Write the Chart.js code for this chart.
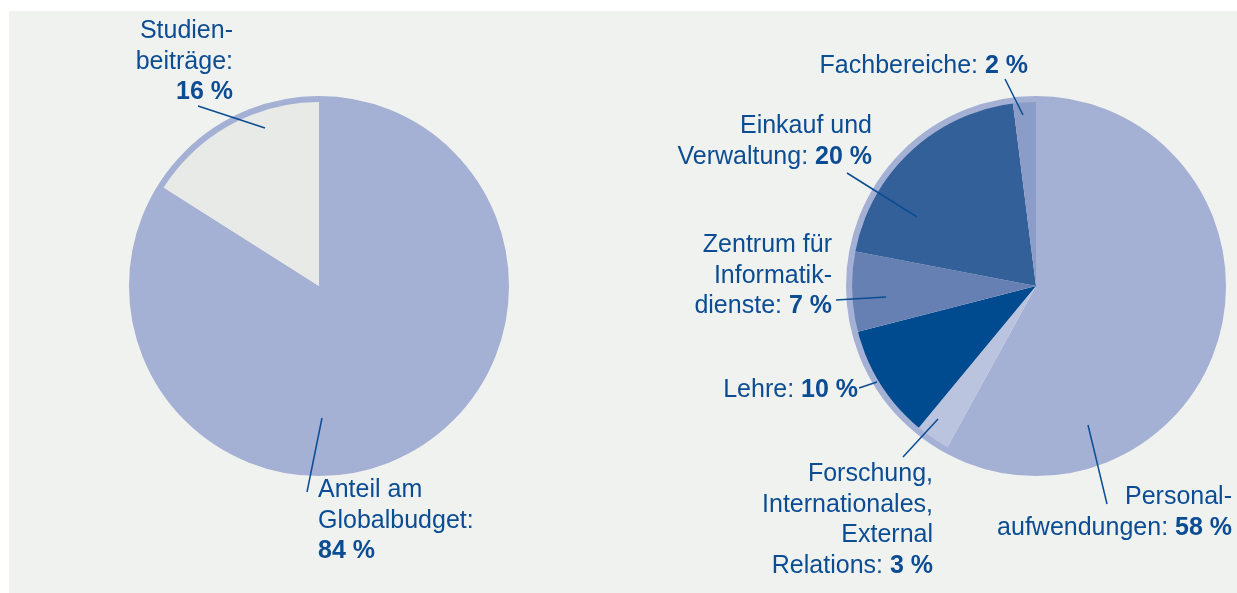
<!DOCTYPE html>
<html>
<head>
<meta charset="utf-8">
<script src="https://cdn.jsdelivr.net/npm/chart.js@4.4.1/dist/chart.umd.min.js"></script>
<style>
  html, body { margin: 0; padding: 0; background: #ffffff; }
  .wrap { position: relative; width: 1237px; height: 593px; overflow: hidden; }
  .panel { position: absolute; left: 9px; top: 11px; right: 0; bottom: 0; background: #f0f2ef; }
  canvas { position: absolute; left: 0; top: 0; }
</style>
</head>
<body>
<div class="wrap">
  <div class="panel"></div>
  <canvas id="leftPie" width="1237" height="593"></canvas>
  <canvas id="rightPie" width="1237" height="593"></canvas>
</div>
<script>
// left pie: income
const incomeCategories = ['Anteil am Globalbudget', 'Studienbeiträge'];
const incomeValues = [84, 16];
const incomeColors = ['#a4b0d4', '#e7eae7'];

// right pie: spending
const spendCategories = ['Personalaufwendungen', 'Forschung, Internationales, External Relations', 'Lehre', 'Zentrum für Informatikdienste', 'Einkauf und Verwaltung', 'Fachbereiche'];
const spendValues = [58, 3, 10, 7, 20, 2];
const spendColors = ['#a4b0d4', '#bac4df', '#004a8f', '#6680b3', '#336099', '#8c9cc8'];

// label text lines (value is appended in bold)
const incomeLabelLines = [['Anteil am', 'Globalbudget:'], ['Studien-', 'beiträge:']];
const spendLabelLines = [['Personal-', 'aufwendungen:'], ['Forschung,', 'Internationales,', 'External', 'Relations:'], ['Lehre:'], ['Zentrum für', 'Informatik-', 'dienste:'], ['Einkauf und', 'Verwaltung:'], ['Fachbereiche:']];

const textColor = '#0b4c93';
const ringColor = '#a4b0d4';
const fontFamily = '"Liberation Sans", Arial, Helvetica, sans-serif';

// layout of labels: x, first baseline, align, value on own line?, leader line
const incomeLayout = [
  { x: 318, y: 497, align: 'left', own: true, line: [322, 418, 307, 492] },
  { x: 233, y: 38, align: 'right', own: true, line: [265, 128, 198, 106] }
];
const spendLayout = [
  { x: 1232, y: 504, align: 'right', own: false, line: [1088, 425, 1107, 504] },
  { x: 933, y: 481, align: 'right', own: false, line: [938, 419, 903, 457] },
  { x: 858, y: 397, align: 'right', own: false, line: [877, 382, 859, 388] },
  { x: 832, y: 252, align: 'right', own: false, line: [886, 297, 836, 300] },
  { x: 872, y: 133, align: 'right', own: false, line: [917, 217, 847, 173] },
  { x: 1028, y: 73, align: 'right', own: false, line: [1023, 115, 1005, 79] }
];

const labelPlugin = {
  id: 'sliceLabels',
  afterDraw(chart, args, opts) {
    const ctx = chart.ctx;
    const lh = 30.5;
    ctx.save();
    ctx.fillStyle = textColor;
    ctx.strokeStyle = textColor;
    ctx.lineWidth = 1.5;
    ctx.textBaseline = 'alphabetic';
    opts.layout.forEach((lay, i) => {
      const l = lay.line;
      ctx.beginPath();
      ctx.moveTo(l[0], l[1]);
      ctx.lineTo(l[2], l[3]);
      ctx.stroke();

      const rows = opts.lines[i].map(t => [{ t: t, bold: false }]);
      const val = opts.values[i] + ' %';
      if (lay.own) rows.push([{ t: val, bold: true }]);
      else rows[rows.length - 1].push({ t: ' ', bold: false }, { t: val, bold: true });

      rows.forEach((segs, r) => {
        const y = lay.y + r * lh;
        let w = 0;
        segs.forEach(s => {
          ctx.font = (s.bold ? 'bold ' : '') + '25px ' + fontFamily;
          w += ctx.measureText(s.t).width;
        });
        let x = lay.align === 'right' ? lay.x - w : lay.x;
        ctx.textAlign = 'left';
        segs.forEach(s => {
          ctx.font = (s.bold ? 'bold ' : '') + '25px ' + fontFamily;
          ctx.fillText(s.t, x, y);
          x += ctx.measureText(s.t).width;
        });
      });
    });
    ctx.restore();
  }
};

function makePie(id, labels, values, colors, lines, layout, padding) {
  const ctx = document.getElementById(id).getContext('2d');
  return new Chart(ctx, {
    type: 'pie',
    data: {
      labels: labels,
      datasets: [
        // thin outer rim, its border hides the seam to the slices
        { data: [100], backgroundColor: [ringColor], borderColor: ringColor, borderWidth: 2, weight: 1 },
        { data: values, backgroundColor: colors, borderWidth: 0, weight: 45 }
      ]
    },
    options: {
      responsive: false,
      animation: false,
      events: [],
      layout: { padding: padding },
      plugins: {
        legend: { display: false },
        tooltip: { enabled: false },
        sliceLabels: { lines: lines, values: values, layout: layout }
      }
    },
    plugins: [labelPlugin]
  });
}

makePie('leftPie', incomeCategories, incomeValues, incomeColors, incomeLabelLines, incomeLayout,
  { left: 129, right: 1237 - 509, top: 96, bottom: 593 - 476 });
makePie('rightPie', spendCategories, spendValues, spendColors, spendLabelLines, spendLayout,
  { left: 846, right: 1237 - 1226, top: 96, bottom: 593 - 476 });
</script>
</body>
</html>
